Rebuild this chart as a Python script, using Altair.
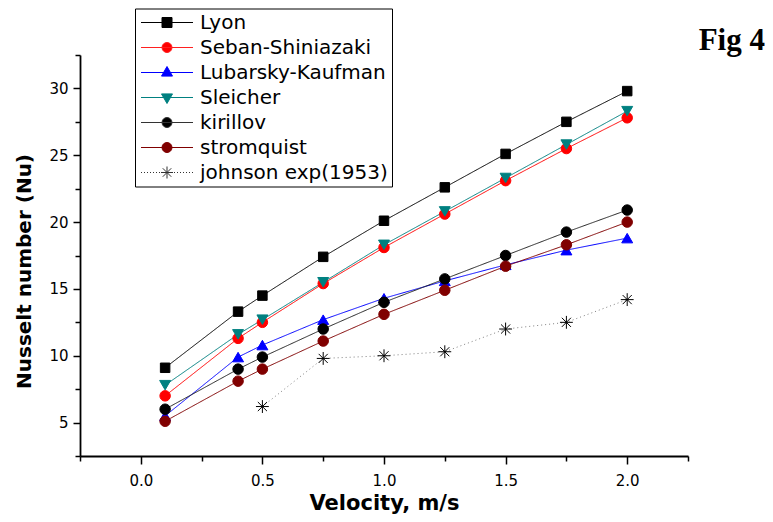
import altair as alt
import pandas as pd

velocity = [0.1, 0.4, 0.5, 0.75, 1.0, 1.25, 1.5, 1.75, 2.0]
lyon = [9.1, 13.3, 14.5, 17.4, 20.1, 22.6, 25.1, 27.5, 29.8]
seban = [7.0, 11.3, 12.5, 15.4, 18.1, 20.6, 23.1, 25.5, 27.8]
lubarsky = [5.5, 9.9, 10.8, 12.7, 14.3, 15.6, 16.8, 17.9, 18.8]
sleicher = [7.8, 11.6, 12.7, 15.5, 18.3, 20.8, 23.3, 25.8, 28.3]
kirillov = [6.0, 9.0, 9.9, 12.0, 14.0, 15.75, 17.5, 19.25, 20.9]
stromquist = [5.1, 8.1, 9.0, 11.1, 13.1, 14.9, 16.7, 18.3, 20.0]
johnson_velocity = [0.5, 0.75, 1.0, 1.25, 1.5, 1.75, 2.0]
johnson = [6.2, 9.8, 10.0, 10.3, 12.0, 12.5, 14.2]

series_names = ["Lyon", "Seban-Shiniazaki", "Lubarsky-Kaufman", "Sleicher",
                "kirillov", "stromquist", "johnson exp(1953)"]
line_colors = ["#000000", "#FF0000", "#0000FF", "#008080", "#222222", "#800000", "#808080"]
marker_colors = ["#000000", "#FF0000", "#0000FF", "#008080", "#000000", "#800000", "#000000"]
legend_strokes = ["#000000", "#FF2020", "#0000FF", "#008080", "#333333", "#800000", "#333333"]

# marker shapes (unit paths for the legend, Vega names for the plot)
SQUARE = "M-1,-1H1V1H-1Z"
CIRCLE = "M-1,0A1,1,0,1,0,1,0A1,1,0,1,0,-1,0Z"
TRI_UP = "M0,-1.2L1.1,0.72L-1.1,0.72Z"
TRI_DOWN = "M0,1.2L1.1,-0.72L-1.1,-0.72Z"
ASTERISK = "M-1.2,0L1.2,0M0,-1.2L0,1.2M-0.85,-0.85L0.85,0.85M-0.85,0.85L0.85,-0.85"
plot_shapes = ["square", "circle", "triangle-up", "triangle-down", "circle", "circle", ASTERISK]
plot_sizes = [90, 110, 120, 120, 110, 110, 115]

SOLID = "M-5.2,0L5.2,0"
DOTTED = "".join("M%.2f,0L%.2f,0" % (-5.2 + 0.6 * i, -5.0 + 0.6 * i) for i in range(18))
legend_shapes = [SOLID + SQUARE, SOLID + CIRCLE, SOLID + TRI_UP, SOLID + TRI_DOWN,
                 SOLID + CIRCLE, SOLID + CIRCLE, DOTTED + ASTERISK]
dashes = [[1, 0], [1, 0], [1, 0], [1, 0], [1, 0], [1, 0], [1, 3]]

x_major = [0.0, 0.5, 1.0, 1.5, 2.0]
x_minor = [-0.25, 0.25, 0.75, 1.25, 1.75, 2.25]
y_major = [5, 10, 15, 20, 25, 30]
y_minor = [2.5, 7.5, 12.5, 17.5, 22.5, 27.5, 32.5]

rows = []
for name, vals in zip(series_names[:6], [lyon, seban, lubarsky, sleicher, kirillov, stromquist]):
    for v, n in zip(velocity, vals):
        rows.append({"v": v, "nu": n, "series": name})
for v, n in zip(johnson_velocity, johnson):
    rows.append({"v": v, "nu": n, "series": series_names[6]})
df = pd.DataFrame(rows)

FONT = "DejaVu Sans"

xscale = alt.Scale(domain=[-0.25, 2.25], nice=False, zero=False)
yscale = alt.Scale(domain=[2.5, 32.5], nice=False, zero=False)

legend = alt.Legend(
    title=None, orient="none", legendX=55, legendY=-46.5,
    symbolSize=100, symbolStrokeWidth=1, symbolOpacity=1, symbolOffset=18,
    labelFont=FONT, labelFontSize=20, labelColor="black", labelOffset=23,
    labelLimit=400,
    padding=4, rowPadding=5, strokeColor="black", fillColor="white",
    cornerRadius=0,
)

base = alt.Chart(df)

lines = base.mark_line(strokeWidth=1).encode(
    x=alt.X("v:Q", scale=xscale, axis=alt.Axis(
        orient="bottom", values=x_major, format=".1f", tickSize=8, tickWidth=1.5,
        domainWidth=1.8, domainColor="black", tickColor="black", grid=False,
        labelFont=FONT, labelFontSize=15, labelColor="black", labelPadding=9,
        title="Velocity, m/s", titleFont=FONT, titleFontSize=21, titleFontWeight="bold",
        titleColor="black", titleBaseline="alphabetic", titleY=53)),
    y=alt.Y("nu:Q", scale=yscale, axis=alt.Axis(
        orient="left", values=y_major, tickSize=7, tickWidth=1.5,
        domainWidth=1.8, domainColor="black", tickColor="black", grid=False,
        labelFont=FONT, labelFontSize=15, labelColor="black", labelPadding=5,
        title="Nusselt number (Nu)", titleFont=FONT, titleFontSize=20, titleFontWeight="bold",
        titleColor="black", titleX=-46, titleY=216)),
    color=alt.Color("series:N", sort=series_names, scale=alt.Scale(range=line_colors), legend=None),
    strokeDash=alt.StrokeDash("series:N", sort=series_names, scale=alt.Scale(range=dashes), legend=None),
)

# invisible layer that carries the legend and the minor ticks
legend_layer = base.mark_point(filled=True, size=100, opacity=0, strokeWidth=1).encode(
    x=alt.X("v:Q", scale=xscale, axis=alt.Axis(
        orient="bottom", values=x_minor, tickSize=5, tickWidth=1.5, tickColor="black",
        labels=False, domain=False, grid=False, title=None)),
    y=alt.Y("nu:Q", scale=yscale, axis=alt.Axis(
        orient="left", values=y_minor, tickSize=5, tickWidth=1.5, tickColor="black",
        labels=False, domain=False, grid=False, title=None)),
    fill=alt.Fill("series:N", scale=alt.Scale(domain=series_names, range=marker_colors), legend=legend),
    stroke=alt.Stroke("series:N", scale=alt.Scale(domain=series_names, range=legend_strokes), legend=legend),
    shape=alt.Shape("series:N", scale=alt.Scale(domain=series_names, range=legend_shapes), legend=legend),
)

point_layers = []
for name, col, shp, sz in zip(series_names, marker_colors, plot_shapes, plot_sizes):
    point_layers.append(
        base.transform_filter(alt.datum.series == name).mark_point(
            filled=True, shape=shp, size=sz, fill=col, stroke=col, strokeWidth=1, opacity=1
        ).encode(
            x=alt.X("v:Q", scale=xscale, axis=None),
            y=alt.Y("nu:Q", scale=yscale, axis=None),
        )
    )

chart = alt.layer(lines, legend_layer, *point_layers).resolve_axis(
    x="independent", y="independent"
).properties(
    width=608, height=401,
    autosize=alt.AutoSizeParams(type="none"),
    padding={"left": 72, "top": 47, "right": 77, "bottom": 58},
    title=alt.TitleParams("Fig 4", font="Liberation Serif", fontSize=31, fontWeight="bold",
                          color="black", anchor="end", frame="group", dx=77, dy=77,
                          baseline="alphabetic"),
    background="white",
).configure_view(stroke=None)

chart.save("out.html", embed_options={"renderer": "svg", "actions": False})
